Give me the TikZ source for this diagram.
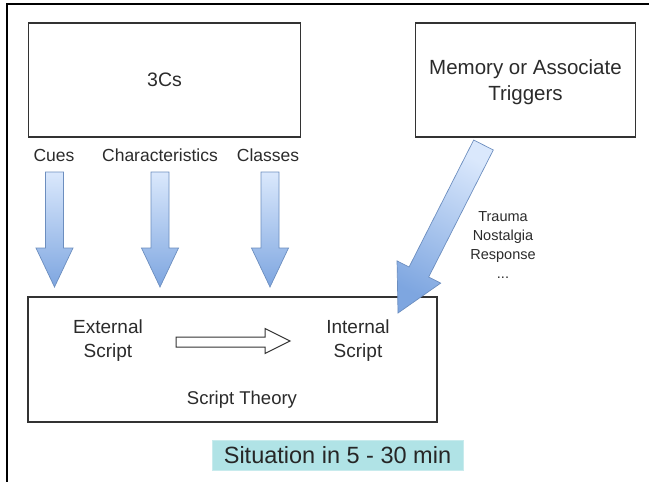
\documentclass[tikz,border=0pt]{standalone}
\usepackage{fontspec}
\setmainfont{Liberation Sans}
\usetikzlibrary{calc}

\definecolor{txt}{HTML}{2B2B2B}
\definecolor{boxline}{HTML}{333333}
\definecolor{blueLight}{HTML}{DAE8FC}
\definecolor{blueDark}{HTML}{7EA6E0}
\definecolor{blueLine}{HTML}{6C8EBF}
\definecolor{tealFill}{HTML}{B0E3E6}

% block arrow from #1 (tail centre) to #2 (tip):
% #3 shaft half width, #4 head half width, #5 head length, #6 extra style
\newcommand\blockarrow[6]{%
  \coordinate (hb) at ($(#2)!#5!(#1)$);
  \path[arrowfill,#6]
    ($(#1)!#3!90:(#2)$) -- ($(hb)!#3!-90:(#1)$) -- ($(hb)!#4!-90:(#1)$)
    -- (#2) -- ($(hb)!#4!90:(#1)$) -- ($(hb)!#3!90:(#1)$)
    -- ($(#1)!#3!-90:(#2)$) -- cycle;
}

\tikzset{
  every node/.style={text=txt},
  plainbox/.style={draw=boxline, line width=1.2pt, fill=white, inner sep=0pt},
  arrowfill/.style={draw=blueLine, line width=0.7pt, top color=blueLight, bottom color=blueDark},
  lbl/.style={font=\fontsize{17.5}{20}\selectfont},
  inner/.style={font=\fontsize{19}{24}\selectfont, align=center},
  small/.style={font=\fontsize{14.5}{19}\selectfont, align=center},
  hollow/.style={draw=boxline, line width=1pt, fill=white, line join=miter},
}

\begin{document}
\begin{tikzpicture}[x=1pt, y=-1pt]
  \useasboundingbox (0,0) rectangle (649,482);

  % page frame (top and left edges)
  \draw[line width=1.5pt, black] (649,4) -- (7,4) -- (7,482);

  % upper boxes
  \node[plainbox, minimum width=272pt, minimum height=114pt] (threec) at (164.5,80) {};
  \node[font=\fontsize{19.5}{24}\selectfont] (threectxt) at (164.5,80) {3Cs};
  \node[plainbox, minimum width=220pt, minimum height=114pt] (memory) at (525.5,80) {};
  \node[font=\fontsize{20.5}{26}\selectfont, align=center] (memorytxt) at (525.5,82)
    {Memory or Associate\\Triggers};

  % labels under the 3Cs box
  \node[lbl] (cues) at (54,155) {Cues};
  \node[lbl] (chars) at (160,155) {Characteristics};
  \node[lbl] (classes) at (268,155) {Classes};

  % script theory box
  \node[plainbox, minimum width=409pt, minimum height=125pt] (script) at (232.5,359.5) {};
  \node[inner] (ext) at (108,341) {External\\Script};
  \node[inner] (int) at (358,341) {Internal\\Script};
  \node[font=\fontsize{18.5}{22}\selectfont] (theory) at (242,400) {Script Theory};

  % vertical block arrows into the script box
  \coordinate (a1s) at (54.5,172);  \coordinate (a1e) at (54.5,287);
  \coordinate (a2s) at (160,172);   \coordinate (a2e) at (160,287);
  \coordinate (a3s) at (270,172);   \coordinate (a3e) at (270,287);
  \blockarrow{a1s}{a1e}{9pt}{18.5pt}{39pt}{}
  \blockarrow{a2s}{a2e}{9pt}{18.5pt}{39pt}{}
  \blockarrow{a3s}{a3e}{9pt}{18.5pt}{39pt}{}

  % diagonal block arrow from the triggers box
  \coordinate (ds) at (483.5,145);
  \coordinate (de) at (398,313);
  \blockarrow{ds}{de}{11pt}{24.5pt}{46pt}{shading angle=-27}

  % trigger examples
  \node[small] (trig) at (503,245) {Trauma\\Nostalgia\\Response\\...};

  % hollow arrow from external to internal script
  \coordinate (hs) at (176,342);
  \coordinate (he) at (290,341);
  \draw[hollow] (176,337) -- (265,337) -- (265,328.5) -- (290,341) -- (265,353.5)
    -- (265,347) -- (176,347) -- cycle;

  % time note
  \node[fill=tealFill, draw=tealFill!70!white, line width=0.5pt, minimum width=251pt,
        minimum height=30pt, inner sep=0pt, font=\fontsize{23.5}{28}\selectfont,
        text=black!85] (situation) at (337.5,455) {Situation in 5 - 30 min};
\end{tikzpicture}
\end{document}
